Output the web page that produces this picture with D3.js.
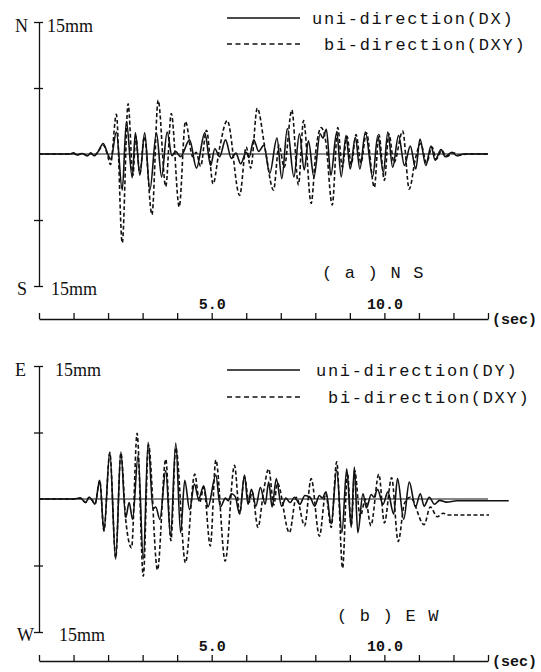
<!DOCTYPE html>
<html>
<head>
<meta charset="utf-8">
<script src="https://cdn.jsdelivr.net/npm/d3@7"></script>
<style>
  body { margin: 0; background: #fff; }
  .mono { font-family: "Liberation Mono", "DejaVu Sans Mono", monospace; fill: #111; }
  .serif { font-family: "Liberation Serif", "DejaVu Serif", serif; fill: #111; }
  .axis path, .axis line { stroke: #111; stroke-width: 1.3; }
</style>
</head>
<body>
<script>
// time axis (sec)
var secTicks = d3.range(0, 14);
var secLabels = {5: "5.0", 10: "10.0"};

// (a) NS response, [t sec, disp mm]
var nsUni = [
  [0,0],[0.9,0],[1.0,0.1],[1.1,-0.1],[1.25,0.05],[1.4,-0.2],[1.5,0.1],[1.6,-0.2],[1.7,0.2],
  [1.86,1.2],[2.0,-0.1],[2.08,-0.6],[2.24,2.5],[2.41,-4.1],[2.53,3.7],[2.70,-2.7],[2.79,2.4],
  [2.92,-2.4],[3.06,2.4],[3.21,-4.1],[3.40,2.4],[3.55,-2.6],[3.71,2.5],[3.85,-0.2],[3.95,0.3],
  [4.10,-0.3],[4.36,1.6],[4.56,-1.6],[4.80,2.4],[4.97,-1.3],[5.09,0.6],[5.23,-0.3],[5.40,1.6],
  [5.57,-0.5],[5.70,0.1],[5.84,-1.1],[6.00,0.2],[6.08,-0.4],[6.22,1.6],[6.36,0.3],[6.51,1.0],
  [6.68,-2.2],[6.89,1.8],[7.03,-2.8],[7.19,2.9],[7.38,-2.6],[7.54,2.3],[7.68,-1.8],[7.80,1.5],
  [7.96,-2.6],[8.14,2.3],[8.22,1.8],[8.32,2.8],[8.45,-2.4],[8.62,2.5],[8.75,-2.6],[8.89,2.1],
  [9.01,-1.7],[9.16,1.9],[9.29,-1.7],[9.45,2.5],[9.66,-2.6],[9.81,2.1],[9.97,-2.1],[10.10,2.5],
  [10.24,-1.5],[10.41,2.1],[10.58,-1.3],[10.75,0.9],[10.91,-1.7],[11.03,1.7],[11.20,-1.3],
  [11.35,0.9],[11.47,-0.7],[11.64,0.5],[11.76,-0.3],[11.96,0.2],[12.10,-0.2],[12.3,0],[13.0,0]
];
var nsBi = [
  [0,0],[0.9,0],[1.0,0.1],[1.1,-0.1],[1.25,0.05],[1.4,-0.2],[1.5,0.1],[1.6,-0.2],[1.7,0.2],
  [1.86,1.0],[1.97,0.1],[2.07,-1.2],[2.24,4.5],[2.41,-10.1],[2.58,5.7],[2.72,-2.4],[2.80,2.0],
  [2.92,-2.2],[3.05,2.0],[3.27,-6.9],[3.45,6.1],[3.67,-3.7],[3.83,4.6],[4.06,-6.0],[4.24,3.7],
  [4.45,-0.3],[4.55,0.2],[4.68,-1.4],[4.85,2.7],[5.04,-3.4],[5.22,0.5],[5.45,3.8],[5.81,-4.7],
  [6.00,0.8],[6.13,-1.6],[6.32,5.2],[6.55,0.5],[6.79,-4.1],[6.95,1.0],[7.10,-1.5],[7.32,5.0],
  [7.51,-3.5],[7.66,3.8],[7.88,-5.6],[8.02,0.5],[8.17,3.0],[8.30,1.5],[8.49,-5.8],[8.65,3.0],
  [8.78,-1.5],[8.92,2.0],[9.04,-1.2],[9.18,2.2],[9.32,-1.0],[9.48,2.4],[9.71,-3.8],[9.84,2.2],
  [10.0,-3.0],[10.13,2.3],[10.28,-1.0],[10.53,2.6],[10.72,-4.0],[10.9,-0.5],[11.05,1.2],
  [11.22,-1.0],[11.38,0.8],[11.5,-0.6],[11.66,0.4],[11.8,-0.3],[12.0,0.15],[12.15,-0.15],
  [12.4,0],[13.0,0]
];

// (b) EW response, [t sec, disp mm]
var ewUni = [
  [0,0],[1.0,0],[1.2,0.1],[1.35,-0.4],[1.45,0.2],[1.55,-0.2],[1.62,-0.6],[1.76,2.1],[1.88,-3.6],
  [2.05,5.3],[2.22,-6.8],[2.37,5.3],[2.51,-2.1],[2.61,-0.4],[2.71,-2.3],[2.87,4.9],[3.02,-6.8],
  [3.16,6.4],[3.30,-1.1],[3.38,-0.9],[3.50,-2.3],[3.67,3.2],[3.81,-4.2],[3.96,6.3],[4.10,-3.8],
  [4.22,2.1],[4.36,-1.2],[4.50,1.7],[4.62,0.0],[4.77,1.5],[4.89,-0.9],[5.12,2.7],[5.25,-0.9],
  [5.40,0.1],[5.48,-0.2],[5.57,0.6],[5.68,0.3],[5.81,-1.7],[5.95,2.7],[6.05,-0.6],[6.15,1.1],
  [6.28,-0.8],[6.41,1.3],[6.55,-0.6],[6.65,1.9],[6.75,-0.9],[6.87,2.3],[7.02,-0.8],[7.15,0.1],
  [7.27,-0.4],[7.40,0.2],[7.55,-0.6],[7.70,0.4],[7.85,0.2],[7.98,-0.8],[8.12,0.4],[8.20,0.1],
  [8.31,0.8],[8.46,-2.8],[8.62,3.3],[8.77,-3.8],[8.91,3.4],[9.04,-3.2],[9.13,3.6],[9.23,-3.8],
  [9.38,0.6],[9.48,-1.0],[9.62,0.5],[9.70,0.2],[9.80,1.1],[9.96,-0.6],[10.10,0.8],[10.27,-1.7],
  [10.38,2.3],[10.56,-2.3],[10.72,1.9],[10.90,-0.9],[11.04,0.6],[11.15,-0.8],[11.30,0.2],
  [11.45,-0.6],[11.6,-0.15],[11.8,-0.35],[12.1,-0.2],[13.6,-0.2]
];
var ewBi = [
  [0,0],[1.0,0],[1.2,0.1],[1.35,-0.4],[1.45,0.2],[1.55,-0.2],[1.62,-0.6],[1.76,2.1],[1.88,-3.6],
  [2.05,5.2],[2.22,-6.6],[2.37,5.2],[2.51,-2.3],[2.68,-5.5],[2.84,7.4],[3.02,-8.7],[3.17,6.1],
  [3.43,-8.0],[3.67,4.5],[3.82,-4.7],[3.96,5.8],[4.24,-7.2],[4.51,2.8],[4.65,-0.4],[4.77,1.3],
  [4.96,-5.3],[5.12,4.4],[5.39,-7.0],[5.66,3.8],[5.81,-1.6],[5.95,2.5],[6.08,-0.4],[6.17,0.8],
  [6.34,-3.2],[6.50,0.8],[6.65,3.4],[6.80,-0.7],[6.90,1.8],[7.25,-3.8],[7.45,0.2],[7.69,-3.0],
  [7.88,2.3],[8.12,-4.2],[8.30,0.6],[8.46,-3.2],[8.62,4.2],[8.79,-7.8],[8.93,3.0],[9.04,-3.0],
  [9.14,3.2],[9.30,-2.0],[9.45,0.0],[9.61,-3.0],[9.84,2.8],[10.0,-2.7],[10.21,2.4],[10.40,-4.8],
  [10.58,-0.5],[10.75,0.2],[11.15,-2.9],[11.33,-0.9],[11.53,-2.0],[11.70,-1.6],[11.85,-1.8],
  [13.03,-1.8]
];

var panels = [
  {top: 22, bottom: 286, axisY: 319, pos: "N", neg: "S", title: "( a ) N S",
   uni: nsUni, bi: nsBi, uniName: "uni-direction(DX)", biName: "bi-direction(DXY)",
   leg: {y1: 18, y2: 44, tx1: 312, tx2: 324}, titleX: 322, titleY: 272, mmX: 47},
  {top: 366, bottom: 632, axisY: 661, pos: "E", neg: "W", title: "( b ) E W",
   uni: ewUni, bi: ewBi, uniName: "uni-direction(DY)", biName: "bi-direction(DXY)",
   leg: {y1: 370, y2: 397, tx1: 316, tx2: 328}, titleX: 337, titleY: 615, mmX: 55}
];

var svg = d3.select("body").append("svg")
  .attr("width", 541)
  .attr("height", 672);

var x = d3.scaleLinear().domain([0, 13]).range([39, 488]);

panels.forEach(function(p) {
  var y = d3.scaleLinear().domain([-15, 15]).range([p.bottom, p.top]);

  var line = d3.line()
    .x(function(d) { return x(d[0]); })
    .y(function(d) { return y(d[1]); })
    .curve(d3.curveMonotoneX);

  //zero line
  svg.append("line")
    .attr("x1", x(0)).attr("x2", x(13))
    .attr("y1", y(0)).attr("y2", y(0))
    .attr("stroke", "#111").attr("stroke-width", 1.1);

  //response lines
  svg.append("path")
    .datum(p.bi)
    .attr("fill", "none")
    .attr("stroke", "#111")
    .attr("stroke-width", 1.6)
    .attr("stroke-dasharray", "4,2.5")
    .attr("d", line);
  svg.append("path")
    .datum(p.uni)
    .attr("fill", "none")
    .attr("stroke", "#111")
    .attr("stroke-width", 1.6)
    .attr("d", line);

  //y axis
  var gy = svg.append("g")
    .attr("class", "axis")
    .attr("transform", "translate(" + x(0) + ",0)")
    .call(d3.axisLeft(y).tickValues([-15, -7.5, 7.5, 15]).tickSize(5).tickSizeOuter(0).tickFormat(""));
  gy.selectAll(".tick line").attr("x1", 4);

  svg.append("text").attr("class", "serif").attr("font-size", 18)
    .attr("x", 15).attr("y", y(15) + 4).attr("dy", "0.35em").text(p.pos);
  svg.append("text").attr("class", "serif").attr("font-size", 18)
    .attr("x", p.mmX).attr("y", y(15) + 4).attr("dy", "0.35em").text("15mm");
  svg.append("text").attr("class", "serif").attr("font-size", 18)
    .attr("x", 17).attr("y", y(-15) + 3).attr("dy", "0.35em").text(p.neg);
  svg.append("text").attr("class", "serif").attr("font-size", 18)
    .attr("x", p.mmX + 4).attr("y", y(-15) + 3).attr("dy", "0.35em").text("15mm");

  //time axis
  var gx = svg.append("g")
    .attr("class", "axis")
    .attr("transform", "translate(0," + p.axisY + ")")
    .call(d3.axisTop(x).tickValues(secTicks).tickSize(6).tickSizeOuter(0)
      .tickFormat(function(d) { return secLabels[d] || ""; }));
  gx.selectAll(".tick text")
    .attr("class", "mono")
    .attr("font-size", 15)
    .attr("font-weight", "bold")
    .attr("y", -10);
  svg.append("text").attr("class", "mono").attr("font-size", 15)
    .attr("font-weight", "bold")
    .attr("x", 492).attr("y", p.axisY).attr("dy", "0.35em").text("(sec)");

  //legend
  svg.append("line")
    .attr("x1", 227).attr("x2", 300)
    .attr("y1", p.leg.y1).attr("y2", p.leg.y1)
    .attr("stroke", "#111").attr("stroke-width", 1.6);
  svg.append("line")
    .attr("x1", 227).attr("x2", 300)
    .attr("y1", p.leg.y2).attr("y2", p.leg.y2)
    .attr("stroke", "#111").attr("stroke-width", 1.6)
    .attr("stroke-dasharray", "5,3.5");
  svg.append("text").attr("class", "mono").attr("font-size", 17)
    .attr("letter-spacing", 1.7)
    .attr("x", p.leg.tx1).attr("y", p.leg.y1).attr("dy", "0.35em").text(p.uniName);
  svg.append("text").attr("class", "mono").attr("font-size", 17)
    .attr("letter-spacing", 1.7)
    .attr("x", p.leg.tx2).attr("y", p.leg.y2).attr("dy", "0.35em").text(p.biName);

  //panel title
  svg.append("text").attr("class", "mono").attr("font-size", 17)
    .attr("letter-spacing", 1.2)
    .attr("x", p.titleX).attr("y", p.titleY).attr("dy", "0.35em").text(p.title);
});
</script>
</body>
</html>
